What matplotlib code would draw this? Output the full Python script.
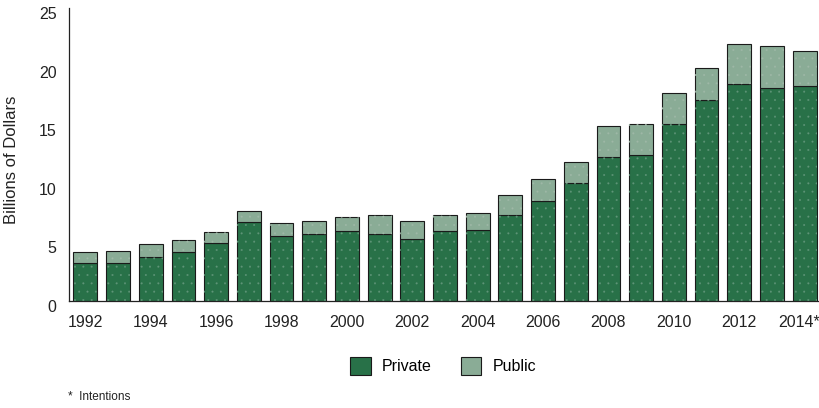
import matplotlib.pyplot as plt
import matplotlib.transforms as mtransforms
import numpy as np

plt.rcParams['font.family'] = ['Liberation Sans', 'DejaVu Sans']

# Data (billions of dollars)
years = ['1992', '1993', '1994', '1995', '1996', '1997', '1998', '1999', '2000',
         '2001', '2002', '2003', '2004', '2005', '2006', '2007', '2008', '2009',
         '2010', '2011', '2012', '2013', '2014*']
private = [3.22, 3.22, 3.73, 4.15, 4.95, 6.74, 5.57, 5.69, 5.97, 5.69, 5.26, 5.97,
           6.09, 7.34, 8.51, 10.04, 12.29, 12.46, 15.1, 17.15, 18.49, 18.17, 18.37]
total = [4.18, 4.24, 4.86, 5.18, 5.86, 7.68, 6.68, 6.85, 7.19, 7.31, 6.80, 7.31,
         7.48, 9.02, 10.41, 11.85, 14.9, 15.1, 17.77, 19.88, 21.93, 21.73, 21.33]
public = [t - p for t, p in zip(total, private)]

private_color = '#287148'
public_color = '#8aac96'

plt.rcParams['hatch.linewidth'] = 0.2

fig = plt.figure(figsize=(8.2, 4.08), dpi=100)
ax = fig.add_axes([69 / 820, 1 - 301 / 408, 752 / 820, 293 / 408])

x = np.arange(len(years))
w = 0.73
ax.bar(x, private, w, color=private_color, edgecolor='#1a1a1a', linewidth=0.8,
       label='Private', zorder=2)
ax.bar(x, public, w, bottom=private, color=public_color, edgecolor='#1a1a1a',
       linewidth=0.8, label='Public', zorder=2)

# faint stipple texture
ax.bar(x, private, w, color='none', edgecolor='#5f9578', hatch='..', linewidth=0,
       zorder=3)
ax.bar(x, public, w, bottom=private, color='none', edgecolor='#9fb8a7', hatch='..',
       linewidth=0, zorder=3)

ax.set_xlim(-0.5, len(years) - 0.5)
ax.set_ylim(0, 25)
ax.set_yticks([0, 5, 10, 15, 20, 25])
ax.set_xticks(x[::2])
ax.set_xticklabels(years[::2])
ax.tick_params(axis='both', length=0, labelsize=11.5, colors='#222222')
ax.tick_params(axis='x', pad=10)
ax.tick_params(axis='y', pad=9)
offset = mtransforms.ScaledTranslation(0, -5 / 100, fig.dpi_scale_trans)
for lbl in ax.get_yticklabels():
    lbl.set_transform(lbl.get_transform() + offset)
last = ax.get_xticklabels()[-1]
last.set_transform(last.get_transform() +
                   mtransforms.ScaledTranslation(-6 / 100, 0, fig.dpi_scale_trans))

for s in ['top', 'right']:
    ax.spines[s].set_visible(False)
for s in ['left', 'bottom']:
    ax.spines[s].set_linewidth(0.9)
    ax.spines[s].set_color('#222222')

fig.text(12 / 820, 1 - 160 / 408, 'Billions of Dollars', rotation=90,
         ha='center', va='center', fontsize=12, color='#222222')

handles, labels = ax.get_legend_handles_labels()
fig.legend(handles, labels, loc='center', bbox_to_anchor=(443 / 820, 1 - 366 / 408),
           ncol=2, frameon=False, fontsize=11.5, handlelength=1.3, handleheight=1.3,
           handletextpad=0.7, columnspacing=1.8)

fig.text(68 / 820, 1 - 397 / 408, '*  Intentions', ha='left', va='center',
         fontsize=8.5, color='#222222')

fig.savefig('out.png', dpi=100)
